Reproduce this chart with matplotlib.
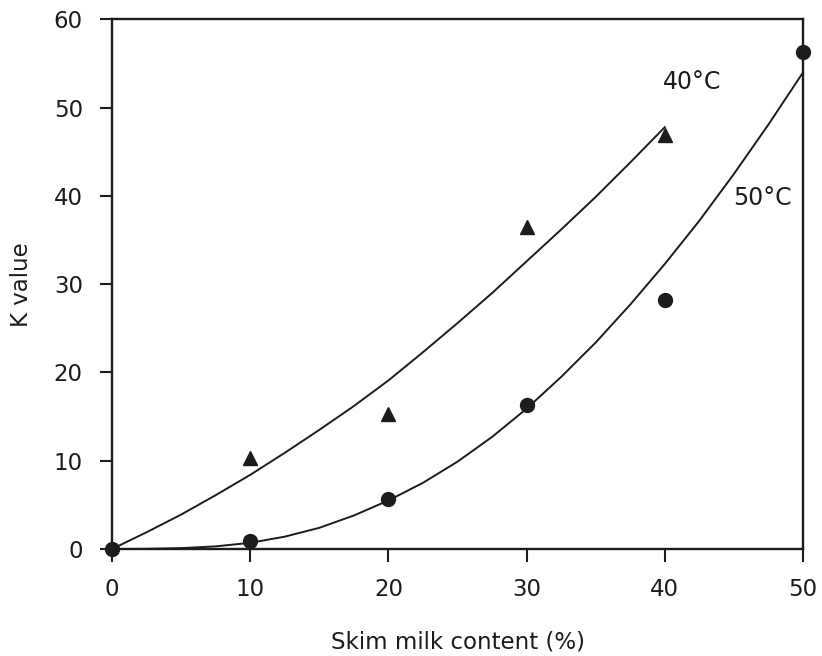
import numpy as np
import matplotlib.pyplot as plt

plt.rcParams['font.family'] = ['DejaVu Sans']

# measured points
milk_40 = [10, 20, 30, 40]
k_40 = [10.3, 15.3, 36.5, 46.9]
milk_50 = [0, 10, 20, 30, 40, 50]
k_50 = [0.0, 0.9, 5.7, 16.3, 28.2, 56.3]

# fitted curves
curve_x_40 = [0, 2.5, 5, 7.5, 10, 12.5, 15, 17.5, 20, 22.5, 25, 27.5, 30,
              32.5, 35, 37.5, 40]
curve_y_40 = [0.0, 1.9, 3.9, 6.1, 8.4, 10.9, 13.5, 16.2, 19.1, 22.3, 25.6,
              29.0, 32.6, 36.2, 39.9, 43.8, 47.8]
curve_x_50 = [0, 2.5, 5, 7.5, 10, 12.5, 15, 17.5, 20, 22.5, 25, 27.5, 30,
              32.5, 35, 37.5, 40, 42.5, 45, 47.5, 50]
curve_y_50 = [0.0, 0.02, 0.1, 0.3, 0.7, 1.4, 2.4, 3.8, 5.5, 7.5, 9.9, 12.7,
              15.9, 19.5, 23.4, 27.7, 32.3, 37.2, 42.5, 48.1, 54.0]

ink = '#1c1c1c'

fig = plt.figure(figsize=(8.22, 6.56), dpi=100)
ax = fig.add_axes([0.1363, 0.1631, 0.8406, 0.8072])

ax.plot(curve_x_40, curve_y_40, color=ink, lw=1.4, clip_on=False)
ax.plot(curve_x_50, curve_y_50, color=ink, lw=1.4, clip_on=False)
ax.plot(milk_40, k_40, ls='none', marker='^', ms=10, color=ink, clip_on=False)
ax.plot(milk_50, k_50, ls='none', marker='o', ms=10, color=ink, clip_on=False, zorder=5)

ax.text(42.0, 52.9, '40\u00b0C', fontsize=17, color=ink, ha='center', va='center')
ax.text(47.1, 39.8, '50\u00b0C', fontsize=17, color=ink, ha='center', va='center')

ax.set_xlim(0, 50)
ax.set_ylim(0, 60)
ax.set_xticks([0, 10, 20, 30, 40, 50])
ax.set_yticks([0, 10, 20, 30, 40, 50, 60])

for side in ax.spines.values():
    side.set_linewidth(1.7)
    side.set_color(ink)

ax.tick_params(direction='out', length=9, width=1.5, pad=12, labelsize=16.5, colors=ink)
ax.set_xlabel('Skim milk content (%)', fontsize=16.5, color=ink, labelpad=21)
ax.set_ylabel('K value', fontsize=16.5, color=ink, labelpad=15)

fig.savefig('out.png', dpi=100)
